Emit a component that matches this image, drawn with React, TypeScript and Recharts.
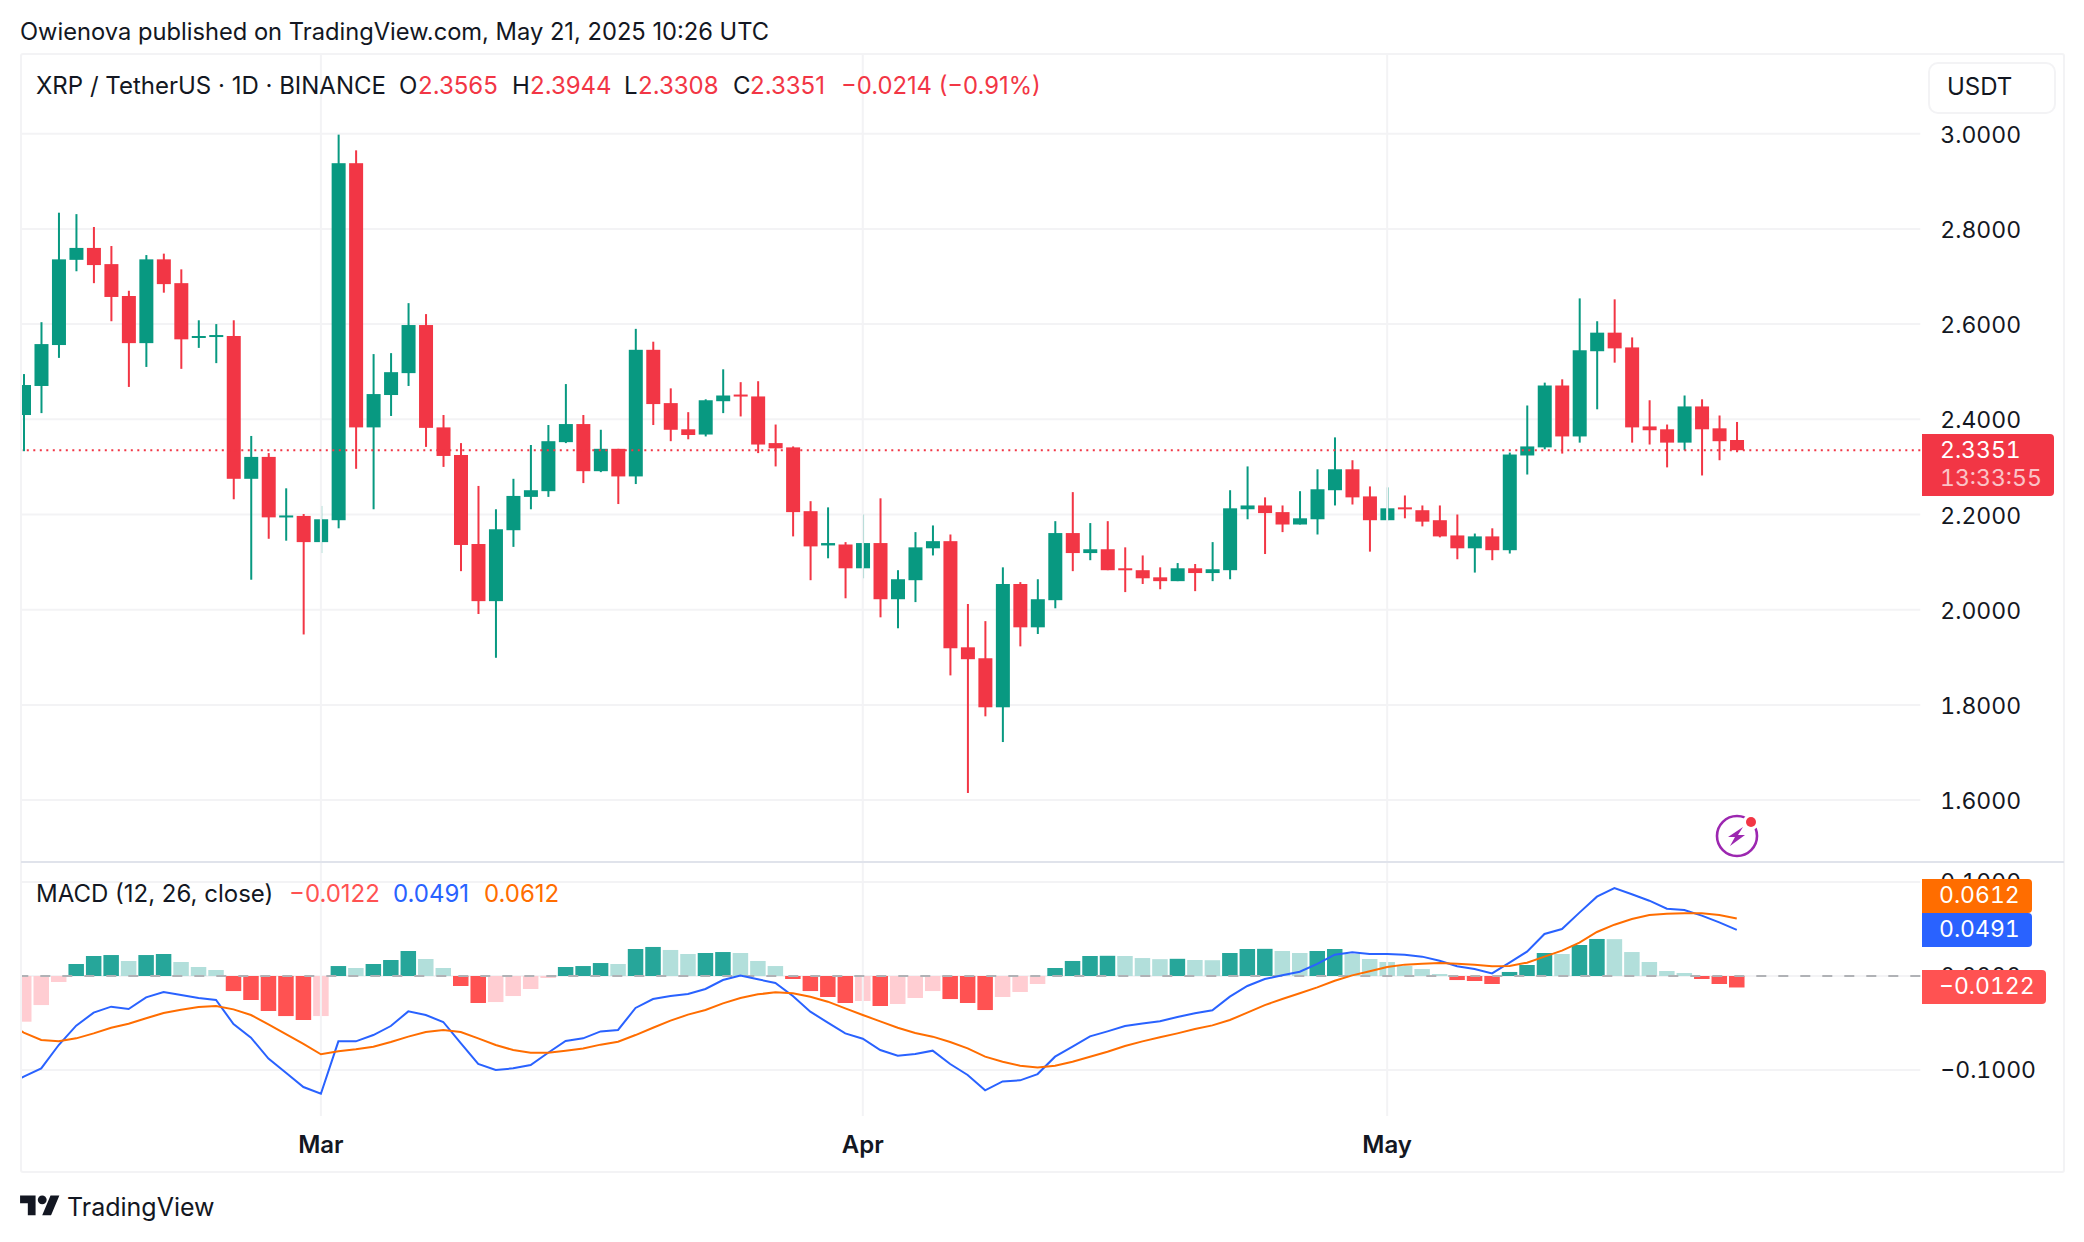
import { Bar, Cell, ComposedChart, CartesianGrid, Line, ReferenceLine, XAxis, YAxis } from 'recharts';

const FONT = 'Inter, "Noto Sans", sans-serif';
const TEXT = '#131722';
const UP = '#089981';
const DOWN = '#f23645';
const GRID = '#f3f3f5';

const months = ['Mar 1', 'Apr 1', 'May 1'];
const dates = [
  'Feb 12', 'Feb 13', 'Feb 14', 'Feb 15', 'Feb 16', 'Feb 17', 'Feb 18', 'Feb 19', 'Feb 20', 'Feb 21', 'Feb 22', 'Feb 23', 'Feb 24', 'Feb 25', 'Feb 26', 'Feb 27', 'Feb 28',
  'Mar 1', 'Mar 2', 'Mar 3', 'Mar 4', 'Mar 5', 'Mar 6', 'Mar 7', 'Mar 8', 'Mar 9', 'Mar 10', 'Mar 11', 'Mar 12', 'Mar 13', 'Mar 14', 'Mar 15', 'Mar 16', 'Mar 17', 'Mar 18', 'Mar 19', 'Mar 20', 'Mar 21', 'Mar 22', 'Mar 23', 'Mar 24', 'Mar 25', 'Mar 26', 'Mar 27', 'Mar 28', 'Mar 29', 'Mar 30', 'Mar 31',
  'Apr 1', 'Apr 2', 'Apr 3', 'Apr 4', 'Apr 5', 'Apr 6', 'Apr 7', 'Apr 8', 'Apr 9', 'Apr 10', 'Apr 11', 'Apr 12', 'Apr 13', 'Apr 14', 'Apr 15', 'Apr 16', 'Apr 17', 'Apr 18', 'Apr 19', 'Apr 20', 'Apr 21', 'Apr 22', 'Apr 23', 'Apr 24', 'Apr 25', 'Apr 26', 'Apr 27', 'Apr 28', 'Apr 29', 'Apr 30',
  'May 1', 'May 2', 'May 3', 'May 4', 'May 5', 'May 6', 'May 7', 'May 8', 'May 9', 'May 10', 'May 11', 'May 12', 'May 13', 'May 14', 'May 15', 'May 16', 'May 17', 'May 18', 'May 19', 'May 20', 'May 21',
  'May 22', 'May 23', 'May 24', 'May 25', 'May 26', 'May 27', 'May 28', 'May 29', 'May 30', 'May 31',
];

const opens = [
  2.409, 2.470, 2.556, 2.735, 2.760, 2.726, 2.659, 2.560, 2.736, 2.686,
  2.571, 2.574, 2.575, 2.275, 2.321, 2.195, 2.197, 2.142, 2.188, 2.938,
  2.383, 2.451, 2.497, 2.598, 2.383, 2.325, 2.138, 2.018, 2.167, 2.237,
  2.249, 2.352, 2.390, 2.291, 2.338, 2.280, 2.546, 2.434, 2.379, 2.368,
  2.438, 2.452, 2.448, 2.350, 2.341, 2.207, 2.135, 2.137, 2.087, 2.140,
  2.022, 2.062, 2.129, 2.144, 1.921, 1.898, 1.795, 2.054, 1.963, 2.020,
  2.161, 2.119, 2.127, 2.087, 2.083, 2.068, 2.060, 2.087, 2.077, 2.083,
  2.211, 2.219, 2.205, 2.179, 2.190, 2.251, 2.295, 2.238, 2.188, 2.215,
  2.209, 2.188, 2.156, 2.129, 2.154, 2.125, 2.324, 2.341, 2.471, 2.364,
  2.543, 2.582, 2.551, 2.385, 2.379, 2.351, 2.427, 2.381, 2.3565,
];
const closes = [
  2.472, 2.558, 2.736, 2.760, 2.724, 2.657, 2.560, 2.736, 2.684, 2.568,
  2.575, 2.577, 2.275, 2.321, 2.194, 2.198, 2.142, 2.190, 2.938, 2.383,
  2.453, 2.499, 2.598, 2.382, 2.323, 2.136, 2.018, 2.169, 2.239, 2.251,
  2.354, 2.390, 2.291, 2.338, 2.280, 2.546, 2.432, 2.378, 2.367, 2.440,
  2.450, 2.448, 2.347, 2.339, 2.205, 2.133, 2.140, 2.087, 2.140, 2.022,
  2.064, 2.131, 2.144, 1.919, 1.896, 1.795, 2.054, 1.963, 2.022, 2.161,
  2.119, 2.127, 2.083, 2.083, 2.066, 2.060, 2.087, 2.077, 2.085, 2.213,
  2.219, 2.203, 2.179, 2.192, 2.253, 2.295, 2.236, 2.188, 2.213, 2.211,
  2.185, 2.154, 2.129, 2.154, 2.125, 2.326, 2.343, 2.471, 2.364, 2.545,
  2.582, 2.549, 2.383, 2.377, 2.351, 2.427, 2.379, 2.354, 2.3351,
];
const highs = [
  2.495, 2.604, 2.834, 2.831, 2.804, 2.764, 2.670, 2.745, 2.748, 2.715,
  2.608, 2.600, 2.608, 2.365, 2.329, 2.255, 2.201, 2.218, 2.998, 2.965,
  2.537, 2.539, 2.644, 2.621, 2.409, 2.350, 2.260, 2.211, 2.275, 2.346,
  2.388, 2.474, 2.409, 2.378, 2.338, 2.590, 2.563, 2.465, 2.415, 2.442,
  2.505, 2.478, 2.480, 2.389, 2.343, 2.228, 2.215, 2.142, 2.200, 2.234,
  2.083, 2.163, 2.177, 2.158, 2.012, 1.976, 2.089, 2.058, 2.064, 2.186,
  2.247, 2.182, 2.186, 2.131, 2.114, 2.089, 2.098, 2.096, 2.142, 2.251,
  2.301, 2.236, 2.219, 2.249, 2.295, 2.362, 2.314, 2.259, 2.257, 2.240,
  2.219, 2.219, 2.200, 2.160, 2.171, 2.330, 2.429, 2.477, 2.484, 2.654,
  2.606, 2.652, 2.572, 2.440, 2.389, 2.450, 2.442, 2.408, 2.3944,
];
const lows = [
  2.333, 2.413, 2.529, 2.711, 2.686, 2.606, 2.468, 2.510, 2.666, 2.506,
  2.550, 2.518, 2.232, 2.063, 2.149, 2.145, 1.948, 2.119, 2.171, 2.296,
  2.211, 2.407, 2.470, 2.342, 2.300, 2.081, 1.991, 1.899, 2.132, 2.211,
  2.237, 2.350, 2.266, 2.289, 2.222, 2.264, 2.388, 2.354, 2.358, 2.364,
  2.413, 2.406, 2.329, 2.301, 2.154, 2.062, 2.108, 2.024, 2.066, 1.984,
  1.961, 2.016, 2.114, 1.862, 1.615, 1.776, 1.722, 1.923, 1.949, 2.003,
  2.081, 2.104, 2.083, 2.037, 2.054, 2.043, 2.060, 2.039, 2.060, 2.064,
  2.190, 2.117, 2.163, 2.179, 2.158, 2.219, 2.221, 2.122, 2.188, 2.192,
  2.175, 2.152, 2.106, 2.078, 2.104, 2.118, 2.284, 2.337, 2.328, 2.351,
  2.421, 2.519, 2.351, 2.347, 2.299, 2.335, 2.282, 2.314, 2.3308,
];

const histogram = [
  -0.0486, -0.0309, -0.0064, 0.0128, 0.0213, 0.0223, 0.0160, 0.0223, 0.0234, 0.0149,
  0.0096, 0.0064, -0.0160, -0.0255, -0.0372, -0.0426, -0.0468, -0.0426, 0.0106, 0.0085,
  0.0128, 0.0170, 0.0266, 0.0181, 0.0085, -0.0106, -0.0287, -0.0277, -0.0213, -0.0138,
  -0.0021, 0.0096, 0.0106, 0.0138, 0.0128, 0.0287, 0.0309, 0.0277, 0.0234, 0.0245,
  0.0255, 0.0245, 0.0160, 0.0106, -0.0032, -0.0160, -0.0223, -0.0287, -0.0266, -0.0319,
  -0.0298, -0.0234, -0.0160, -0.0245, -0.0287, -0.0362, -0.0223, -0.0170, -0.0085, 0.0085,
  0.0160, 0.0213, 0.0215, 0.0213, 0.0191, 0.0179, 0.0183, 0.0170, 0.0168, 0.0245,
  0.0287, 0.0289, 0.0266, 0.0245, 0.0266, 0.0287, 0.0234, 0.0181, 0.0149, 0.0106,
  0.0074, 0.0021, -0.0043, -0.0053, -0.0085, 0.0043, 0.0117, 0.0245, 0.0234, 0.0330,
  0.0394, 0.0392, 0.0255, 0.0149, 0.0053, 0.0032, -0.0032, -0.0085, -0.0122,
];
const macdLine = [
  -0.1071, -0.0982, -0.0734, -0.0528, -0.0390, -0.0326, -0.0351, -0.0227, -0.0170, -0.0202,
  -0.0234, -0.0255, -0.0511, -0.0656, -0.0879, -0.1028, -0.1181, -0.1252, -0.0695, -0.0695,
  -0.0628, -0.0532, -0.0376, -0.0415, -0.0489, -0.0713, -0.0936, -0.1000, -0.0982, -0.0947,
  -0.0816, -0.0691, -0.0663, -0.0589, -0.0574, -0.0340, -0.0245, -0.0213, -0.0191, -0.0138,
  -0.0043, 0.0004, -0.0035, -0.0074, -0.0213, -0.0379, -0.0496, -0.0610, -0.0667, -0.0787,
  -0.0848, -0.0830, -0.0794, -0.0936, -0.1053, -0.1216, -0.1121, -0.1110, -0.1043, -0.0858,
  -0.0752, -0.0642, -0.0589, -0.0532, -0.0504, -0.0482, -0.0436, -0.0397, -0.0365, -0.0220,
  -0.0106, -0.0032, 0.0007, 0.0046, 0.0128, 0.0227, 0.0252, 0.0234, 0.0234, 0.0227,
  0.0206, 0.0163, 0.0103, 0.0074, 0.0028, 0.0142, 0.0259, 0.0447, 0.0500, 0.0674,
  0.0844, 0.0936, 0.0869, 0.0801, 0.0716, 0.0702, 0.0642, 0.0571, 0.0491,
];
const signalLine = [
  -0.0603, -0.0681, -0.0695, -0.0663, -0.0610, -0.0550, -0.0507, -0.0450, -0.0394, -0.0358,
  -0.0330, -0.0319, -0.0355, -0.0415, -0.0514, -0.0617, -0.0723, -0.0833, -0.0801, -0.0780,
  -0.0752, -0.0702, -0.0645, -0.0596, -0.0574, -0.0596, -0.0663, -0.0734, -0.0787, -0.0816,
  -0.0816, -0.0794, -0.0770, -0.0730, -0.0699, -0.0628, -0.0550, -0.0475, -0.0411, -0.0362,
  -0.0291, -0.0234, -0.0195, -0.0174, -0.0184, -0.0220, -0.0273, -0.0344, -0.0415, -0.0482,
  -0.0550, -0.0606, -0.0645, -0.0702, -0.0770, -0.0858, -0.0911, -0.0954, -0.0972, -0.0954,
  -0.0911, -0.0858, -0.0805, -0.0745, -0.0695, -0.0652, -0.0610, -0.0564, -0.0525, -0.0468,
  -0.0390, -0.0309, -0.0245, -0.0184, -0.0121, -0.0050, 0.0007, 0.0050, 0.0096, 0.0121,
  0.0131, 0.0138, 0.0131, 0.0121, 0.0103, 0.0106, 0.0142, 0.0206, 0.0270, 0.0355,
  0.0468, 0.0546, 0.0606, 0.0649, 0.0663, 0.0667, 0.0667, 0.0649, 0.0612,
];
// the day before the first candle: only its lines show, coming in from behind the frame
const priorDay = { date: 'Feb 11', macd: -0.1167, signal: -0.0486 };

const priceTicks = [1.6, 1.8, 2.0, 2.2, 2.4, 2.6, 2.8, 3.0];
const macdTicks = [-0.1, 0, 0.1];
const lastPrice = 2.3351;

const priceData = dates.map((date, i) => ({
  date,
  open: opens[i],
  close: closes[i],
  high: highs[i],
  low: lows[i],
  range: highs[i] === undefined ? undefined : [lows[i], highs[i]],
}));
const macdData: any[] = [
  priorDay,
  ...dates.map((date, i) => ({
    date,
    hist: histogram[i],
    macd: macdLine[i],
    signal: signalLine[i],
  })),
];

function histColor(v: number | undefined, prev: number | undefined) {
  if (v === undefined) return 'none';
  if (prev === undefined) return v >= 0 ? '#b2dfdb' : '#ffcdd2';
  if (v >= 0) return v > prev ? '#26a69a' : '#b2dfdb';
  return v < prev ? '#ff5252' : '#ffcdd2';
}

function Candle(props: any) {
  const { x, y, width, height, payload } = props;
  if (payload.open === undefined || !height) return null;
  const perUnit = height / (payload.high - payload.low);
  const top = y + (payload.high - Math.max(payload.open, payload.close)) * perUnit;
  const bodyH = Math.max(Math.abs(payload.open - payload.close) * perUnit, 2);
  const color = payload.close >= payload.open ? UP : DOWN;
  return (
    <g>
      <rect x={x + width / 2 - 1} y={y} width={2} height={height} fill={color} />
      <rect x={x} y={top} width={width} height={bodyH} fill={color} />
    </g>
  );
}

function fmt(v: number) {
  return v.toFixed(4).replace('-', '\u2212');
}

function Txt({ x, y, color = TEXT, size = 24, weight = 400, opacity = 1, tabular = false, children }: any) {
  return (
    <div style={{ position: 'absolute', left: x, top: y, transform: 'translateY(-50%)', color, fontSize: size, fontWeight: weight, opacity, fontFamily: FONT, fontVariantNumeric: tabular ? 'tabular-nums' : 'normal', whiteSpace: 'nowrap', lineHeight: 1.2 }}>
      {children}
    </div>
  );
}

function Box({ top, bottom, right, color }: any) {
  return <div style={{ position: 'absolute', left: 1922, top, width: right - 1922, height: bottom - top, background: color, borderRadius: '0 4px 4px 0' }} />;
}

const axisTick = { fill: TEXT, fontSize: 23, fontFamily: FONT };

export default function App() {
  return (
    <div style={{ position: 'absolute', left: 0, top: 0, width: 2084, height: 1242, background: '#fff', overflow: 'hidden' }}>
      <div style={{ position: 'absolute', left: 0, top: 54, fontVariantNumeric: 'tabular-nums' }}>
        <ComposedChart width={2084} height={808} data={priceData} margin={{ top: 0, right: 20, bottom: 0, left: 15 }}>
          <CartesianGrid vertical={false} horizontalValues={priceTicks} stroke={GRID} strokeWidth={2} />
          <XAxis dataKey="date" hide />
          <YAxis
            orientation="right"
            width={143.7}
            domain={[1.47, 3.1674]}
            ticks={priceTicks}
            tick={{ ...axisTick, dy: 1 }}
            tickFormatter={fmt}
            axisLine={false}
            tickLine={false}
            tickSize={0}
            tickMargin={20}
          />
          {months.map((m) => (
            <ReferenceLine key={m} x={m} stroke={GRID} strokeWidth={2} />
          ))}
          <ReferenceLine y={lastPrice} stroke={DOWN} strokeWidth={2} strokeDasharray="2 4.5" />
          <Bar dataKey="range" barSize={14} shape={Candle} isAnimationActive={false} />
        </ComposedChart>
      </div>

      <div style={{ position: 'absolute', left: 0, top: 863, fontVariantNumeric: 'tabular-nums' }}>
        <ComposedChart width={2084} height={309} data={macdData} margin={{ top: 0, right: 20, bottom: 0, left: -2.48 }}>
          <CartesianGrid vertical={false} horizontalValues={macdTicks} stroke={GRID} strokeWidth={2} />
          <XAxis
            dataKey="date"
            height={56}
            ticks={months}
            interval={0}
            tick={{ ...axisTick, fontSize: 24, fontWeight: 600 }}
            tickFormatter={(v: string) => v.split(' ')[0]}
            axisLine={false}
            tickLine={false}
            tickSize={0}
            tickMargin={20}
          />
          <YAxis
            orientation="right"
            width={143.7}
            domain={[-0.1489, 0.1202]}
            ticks={macdTicks}
            tick={axisTick}
            tickFormatter={fmt}
            axisLine={false}
            tickLine={false}
            tickSize={0}
            tickMargin={20}
          />
          {months.map((m) => (
            <ReferenceLine key={m} x={m} stroke={GRID} strokeWidth={2} />
          ))}
          <Bar dataKey="hist" barSize={15.5} isAnimationActive={false}>
            {macdData.map((d, i) => (
              <Cell key={d.date} fill={histColor(d.hist, i > 0 ? macdData[i - 1].hist : undefined)} />
            ))}
          </Bar>
          <ReferenceLine y={0} stroke="#b0b2b6" strokeWidth={2} strokeDasharray="10 12" />
          <Line dataKey="macd" stroke="#2962ff" strokeWidth={2} dot={false} type="linear" isAnimationActive={false} />
          <Line dataKey="signal" stroke="#ff6d00" strokeWidth={2} dot={false} type="linear" isAnimationActive={false} />
        </ComposedChart>
      </div>

      {/* candles and lines stop at the frame on the left */}
      <div style={{ position: 'absolute', left: 0, top: 54, width: 20, height: 1118, background: '#fff' }} />
      <div style={{ position: 'absolute', left: 20, top: 53, width: 2045, height: 1120, boxSizing: 'border-box', border: `2px solid ${GRID}`, borderRadius: 3 }} />
      <div style={{ position: 'absolute', left: 21, top: 861, width: 2043, height: 2, background: '#e0e3eb' }} />

      <Txt x={20} y={32} size={23.7}>Owienova published on TradingView.com, May 21, 2025 10:26 UTC</Txt>

      <Txt x={36} y={86}>XRP / TetherUS · 1D · BINANCE</Txt>
      <Txt x={399} y={86}>O</Txt>
      <Txt x={418} y={86} color={DOWN}>2.3565</Txt>
      <Txt x={512} y={86}>H</Txt>
      <Txt x={530} y={86} color={DOWN}>2.3944</Txt>
      <Txt x={624} y={86}>L</Txt>
      <Txt x={638} y={86} color={DOWN}>2.3308</Txt>
      <Txt x={733} y={86}>C</Txt>
      <Txt x={750} y={86} color={DOWN}>2.3351</Txt>
      <Txt x={841} y={86} size={23.8} color={DOWN}>{'\u22120.0214 (\u22120.91%)'}</Txt>

      <div style={{ position: 'absolute', left: 1928, top: 62, width: 128, height: 52, boxSizing: 'border-box', border: '2px solid #f3f3f5', borderRadius: 10, background: '#fff' }} />
      <Txt x={1947} y={87}>USDT</Txt>

      <Box top={434} bottom={496} right={2054} color={DOWN} />
      <Txt x={1940} y={451} color="#fff" size={23} tabular>2.3351</Txt>
      <Txt x={1940} y={479} color="#fff" size={23} opacity={0.7} tabular>13:33:55</Txt>

      <Txt x={36} y={894}>MACD (12, 26, close)</Txt>
      <Txt x={289} y={894} color="#ff5252">{'\u22120.0122'}</Txt>
      <Txt x={393} y={894} color="#2962ff">0.0491</Txt>
      <Txt x={484} y={894} color="#ff6d00">0.0612</Txt>

      <Box top={879} bottom={913} right={2032} color="#ff6d00" />
      <Txt x={1939} y={896} color="#fff" size={23} tabular>0.0612</Txt>
      <Box top={913} bottom={947} right={2032} color="#2962ff" />
      <Txt x={1939} y={930} color="#fff" size={23} tabular>0.0491</Txt>
      <Box top={970} bottom={1004} right={2046} color="#ff5252" />
      <Txt x={1939} y={987} color="#fff" size={23} tabular>{'\u22120.0122'}</Txt>

      <svg width={48} height={48} viewBox="1713 812 48 48" style={{ position: 'absolute', left: 1713, top: 812 }}>
        <circle cx={1737} cy={836} r={20} fill="none" stroke="#9c27b0" strokeWidth={2.6} />
        <circle cx={1751} cy={822} r={8} fill="#fff" />
        <circle cx={1751} cy={822} r={5} fill={DOWN} />
        <polygon points="1743,827 1728,837 1735,837 1730,846 1745,835 1738,835" fill="#9c27b0" />
      </svg>

      <svg width={40} height={31} viewBox="0 0 36 28" style={{ position: 'absolute', left: 20, top: 1191 }}>
        <path d="M14 22H7V11H0V4h14v18zM28 22h-8l7.5-18h8L28 22z" fill={TEXT} />
        <circle cx={20} cy={8} r={4} fill={TEXT} />
      </svg>
      <Txt x={67} y={1207} size={25}>TradingView</Txt>
    </div>
  );
}
